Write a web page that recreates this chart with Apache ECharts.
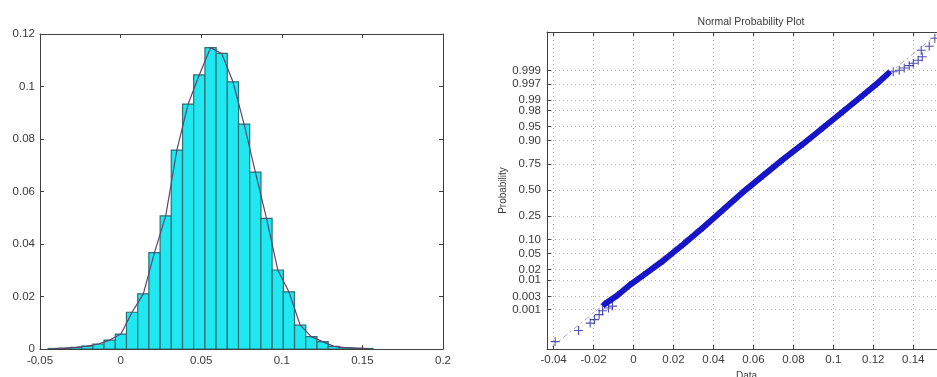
<!DOCTYPE html>
<html><head><meta charset="utf-8">
<script src="https://cdn.jsdelivr.net/npm/echarts@6/dist/echarts.min.js"></script>
<style>html,body{margin:0;padding:0;background:#fff}#c{width:937px;height:377px}</style>
</head><body><div id="c"></div>
<script>
// ---- Histogram (left) ----
const histCenters = [-0.0415,-0.0346,-0.0276,-0.0207,-0.0137,-0.0068,0.0002,0.0071,0.0141,0.0210,0.0280,0.0349,0.0419,0.0488,0.0558,0.0627,0.0697,0.0766,0.0836,0.0905,0.0975,0.1044,0.1114,0.1183,0.1253,0.1322,0.1392,0.1461,0.1531];
const histHeights = [0.0002,0.0003,0.0006,0.0011,0.0019,0.0034,0.0057,0.0140,0.0210,0.0367,0.0507,0.0758,0.0933,0.1044,0.1148,0.1126,0.1018,0.0857,0.0674,0.0498,0.0301,0.0218,0.0091,0.0047,0.0028,0.0010,0.0005,0.0003,0.0002];
const histBinWidth = 0.00695;
const histXTickLabels = ['-0.05','0','0.05','0.1','0.15','0.2'];

// ---- Normal probability plot (right) ----
const probTickLabels = ['0.001','0.003','0.01','0.02','0.05','0.10','0.25','0.50','0.75','0.90','0.95','0.98','0.99','0.997','0.999'];
const probTickValues = [0.001,0.003,0.01,0.02,0.05,0.10,0.25,0.50,0.75,0.90,0.95,0.98,0.99,0.997,0.999];
const probXTicks = [-0.04,-0.02,0,0.02,0.04,0.06,0.08,0.1,0.12,0.14];
// dense band of points (data value, normal score)
const bandX = [-0.0145,-0.0080,-0.0020,0.0050,0.0150,0.0250,0.0350,0.0450,0.0560,0.0650,0.0750,0.0850,0.0950,0.1050,0.1150,0.1220,0.1275];
const bandZ = [-2.95,-2.72,-2.46,-2.20,-1.82,-1.40,-0.96,-0.50,0.00,0.38,0.80,1.20,1.62,2.04,2.46,2.76,3.02];
// sparse tail points
const tailX = [-0.0392,-0.0275,-0.0217,-0.0195,-0.0172,-0.0155,-0.0125,-0.0105,0.1300,0.1330,0.1355,0.1380,0.1400,0.1425,0.1445,0.1440,0.1480,0.1508];
const tailZ = [-3.92,-3.63,-3.44,-3.35,-3.22,-3.12,-3.05,-3.00,3.06,3.10,3.16,3.22,3.28,3.36,3.45,3.62,3.72,3.93];
// reference (fit) line end points
const refX = [-0.0408,0.1517];
const refZ = [-4.05,4.02];

function norminv(p){
  const a=[-3.969683028665376e+01,2.209460984245205e+02,-2.759285104469687e+02,1.383577518672690e+02,-3.066479806614716e+01,2.506628277459239e+00];
  const b=[-5.447609879822406e+01,1.615858368580409e+02,-1.556989798598866e+02,6.680131188771972e+01,-1.328068155288572e+01];
  const c=[-7.784894002430293e-03,-3.223964580411365e-01,-2.400758277161838e+00,-2.549732539343734e+00,4.374664141464968e+00,2.938163982698783e+00];
  const d=[7.784695709041462e-03,3.224671290700398e-01,2.445134137142996e+00,3.754408661907416e+00];
  const pl=0.02425;
  let q,r;
  if(p<pl){q=Math.sqrt(-2*Math.log(p));return (((((c[0]*q+c[1])*q+c[2])*q+c[3])*q+c[4])*q+c[5])/((((d[0]*q+d[1])*q+d[2])*q+d[3])*q+1);}
  if(p<=1-pl){q=p-0.5;r=q*q;return (((((a[0]*r+a[1])*r+a[2])*r+a[3])*r+a[4])*r+a[5])*q/(((((b[0]*r+b[1])*r+b[2])*r+b[3])*r+b[4])*r+1);}
  q=Math.sqrt(-2*Math.log(1-p));return -(((((c[0]*q+c[1])*q+c[2])*q+c[3])*q+c[4])*q+c[5])/((((d[0]*q+d[1])*q+d[2])*q+d[3])*q+1);
}
const probTickZ = probTickValues.map(norminv);

const FONT = "'Liberation Sans', Arial, sans-serif";
const TXT = '#3a3a3a';
const AX = '#404040';
const PLUS = 'path://M-1,-0.12 L1,-0.12 L1,0.12 L-1,0.12 Z M-0.12,-1 L0.12,-1 L0.12,1 L-0.12,1 Z';

const chart = echarts.init(document.getElementById('c'), null, {renderer:'canvas'});
const lbl = {color:TXT, fontFamily:FONT, fontSize:11.5};
const axLine = {show:true, onZero:false, lineStyle:{color:AX}};

chart.setOption({
  animation:false,
  backgroundColor:'#fff',
  title:{text:'Normal Probability Plot', left:746, top:12, textAlign:'center',
    textStyle:{fontFamily:FONT, fontSize:10.5, fontWeight:'normal', color:TXT}},
  grid:[
    {left:40, top:34, width:403, height:315, outerBoundsMode:'none', containLabel:false},
    {left:547, top:32, width:399, height:317, outerBoundsMode:'none', containLabel:false}
  ],
  xAxis:[
    {gridIndex:0, type:'value', min:-0.05, max:0.2, interval:0.05, position:'bottom',
      axisLine:axLine, axisTick:{inside:true, length:4, lineStyle:{color:AX}},
      axisLabel:{...lbl, margin:6, formatter:(v)=>{const i=Math.round((v+0.05)/0.05);return histXTickLabels[i]||'';}},
      splitLine:{show:false}},
    {gridIndex:0, type:'value', min:-0.05, max:0.2, interval:0.05, position:'top',
      axisLine:axLine, axisTick:{inside:true, length:4, lineStyle:{color:AX}},
      axisLabel:{show:false}, splitLine:{show:false}},
    {gridIndex:1, type:'value', min:-0.0433, max:0.1564, position:'bottom',
      name:'Data', nameLocation:'middle', nameGap:17, nameTextStyle:{fontFamily:FONT, fontSize:10, color:TXT},
      axisLine:axLine,
      axisTick:{inside:true, length:4, customValues:probXTicks, lineStyle:{color:AX}},
      axisLabel:{...lbl, margin:5, customValues:probXTicks},
      splitLine:{show:true, lineStyle:{color:'#b4b4b4', type:[1,3], width:1}}},
    {gridIndex:1, type:'value', min:-0.0433, max:0.1564, position:'top',
      axisLine:axLine,
      axisTick:{inside:true, length:4, customValues:probXTicks, lineStyle:{color:AX}},
      axisLabel:{show:false}, splitLine:{show:false}}
  ],
  yAxis:[
    {gridIndex:0, type:'value', min:0, max:0.12, interval:0.02, position:'left',
      axisLine:axLine, axisTick:{show:true, inside:true, length:4, lineStyle:{color:AX}},
      axisLabel:{...lbl, margin:5}, splitLine:{show:false}},
    {gridIndex:0, type:'value', min:0, max:0.12, interval:0.02, position:'right',
      axisLine:axLine, axisTick:{show:true, inside:true, length:4, lineStyle:{color:AX}},
      axisLabel:{show:false}, splitLine:{show:false}},
    {gridIndex:1, type:'value', min:-4.11, max:4.09, position:'left',
      name:'Probability', nameLocation:'middle', nameGap:38, nameRotate:90,
      nameTextStyle:{fontFamily:FONT, fontSize:10, color:TXT},
      axisLine:axLine,
      axisTick:{show:true, inside:true, length:4, customValues:probTickZ, lineStyle:{color:AX}},
      axisLabel:{...lbl, margin:6, customValues:probTickZ, formatter:(v)=>{
        let best=0,bd=1e9; probTickZ.forEach((z,i)=>{const dd=Math.abs(z-v); if(dd<bd){bd=dd;best=i;}});
        return probTickLabels[best];}},
      splitLine:{show:true, lineStyle:{color:'#b4b4b4', type:[1,3], width:1}}}
  ],
  series:[
    {type:'custom', xAxisIndex:0, yAxisIndex:0, clip:true,
      data: histCenters.map((c,i)=>[c-histBinWidth/2, c+histBinWidth/2, histHeights[i]]),
      renderItem:(params, api)=>{
        const p0 = api.coord([api.value(0), 0]);
        const p1 = api.coord([api.value(1), api.value(2)]);
        return {type:'rect', shape:{x:p0[0], y:p1[1], width:p1[0]-p0[0], height:p0[1]-p1[1]},
          style:{fill:'#1fe8f0', stroke:'#2d6e74', lineWidth:1.2}};
      }},
    {type:'line', xAxisIndex:0, yAxisIndex:0, symbol:'none',
      data: histCenters.map((c,i)=>[c, histHeights[i]]),
      lineStyle:{color:'#5e4470', width:1.2}},
    {type:'line', xAxisIndex:2, yAxisIndex:2, symbol:'none',
      data: refX.map((x,i)=>[x, refZ[i]]),
      lineStyle:{color:'#a8a8c4', width:1, type:[6,3,2,3]}},
    {type:'line', xAxisIndex:2, yAxisIndex:2, symbol:'none',
      data: bandX.map((x,i)=>[x, bandZ[i]]),
      lineStyle:{color:'#1616c8', width:6, cap:'round', join:'round'}},
    {type:'scatter', xAxisIndex:2, yAxisIndex:2, symbol:PLUS, symbolSize:8,
      data: bandX.map((x,i)=>[x, bandZ[i]]),
      itemStyle:{color:'#1010b8'}},
    {type:'scatter', xAxisIndex:2, yAxisIndex:2, symbol:PLUS, symbolSize:9,
      data: tailX.map((x,i)=>[x, tailZ[i]]),
      itemStyle:{color:'#22229c'}}
  ]
});
</script></body></html>
